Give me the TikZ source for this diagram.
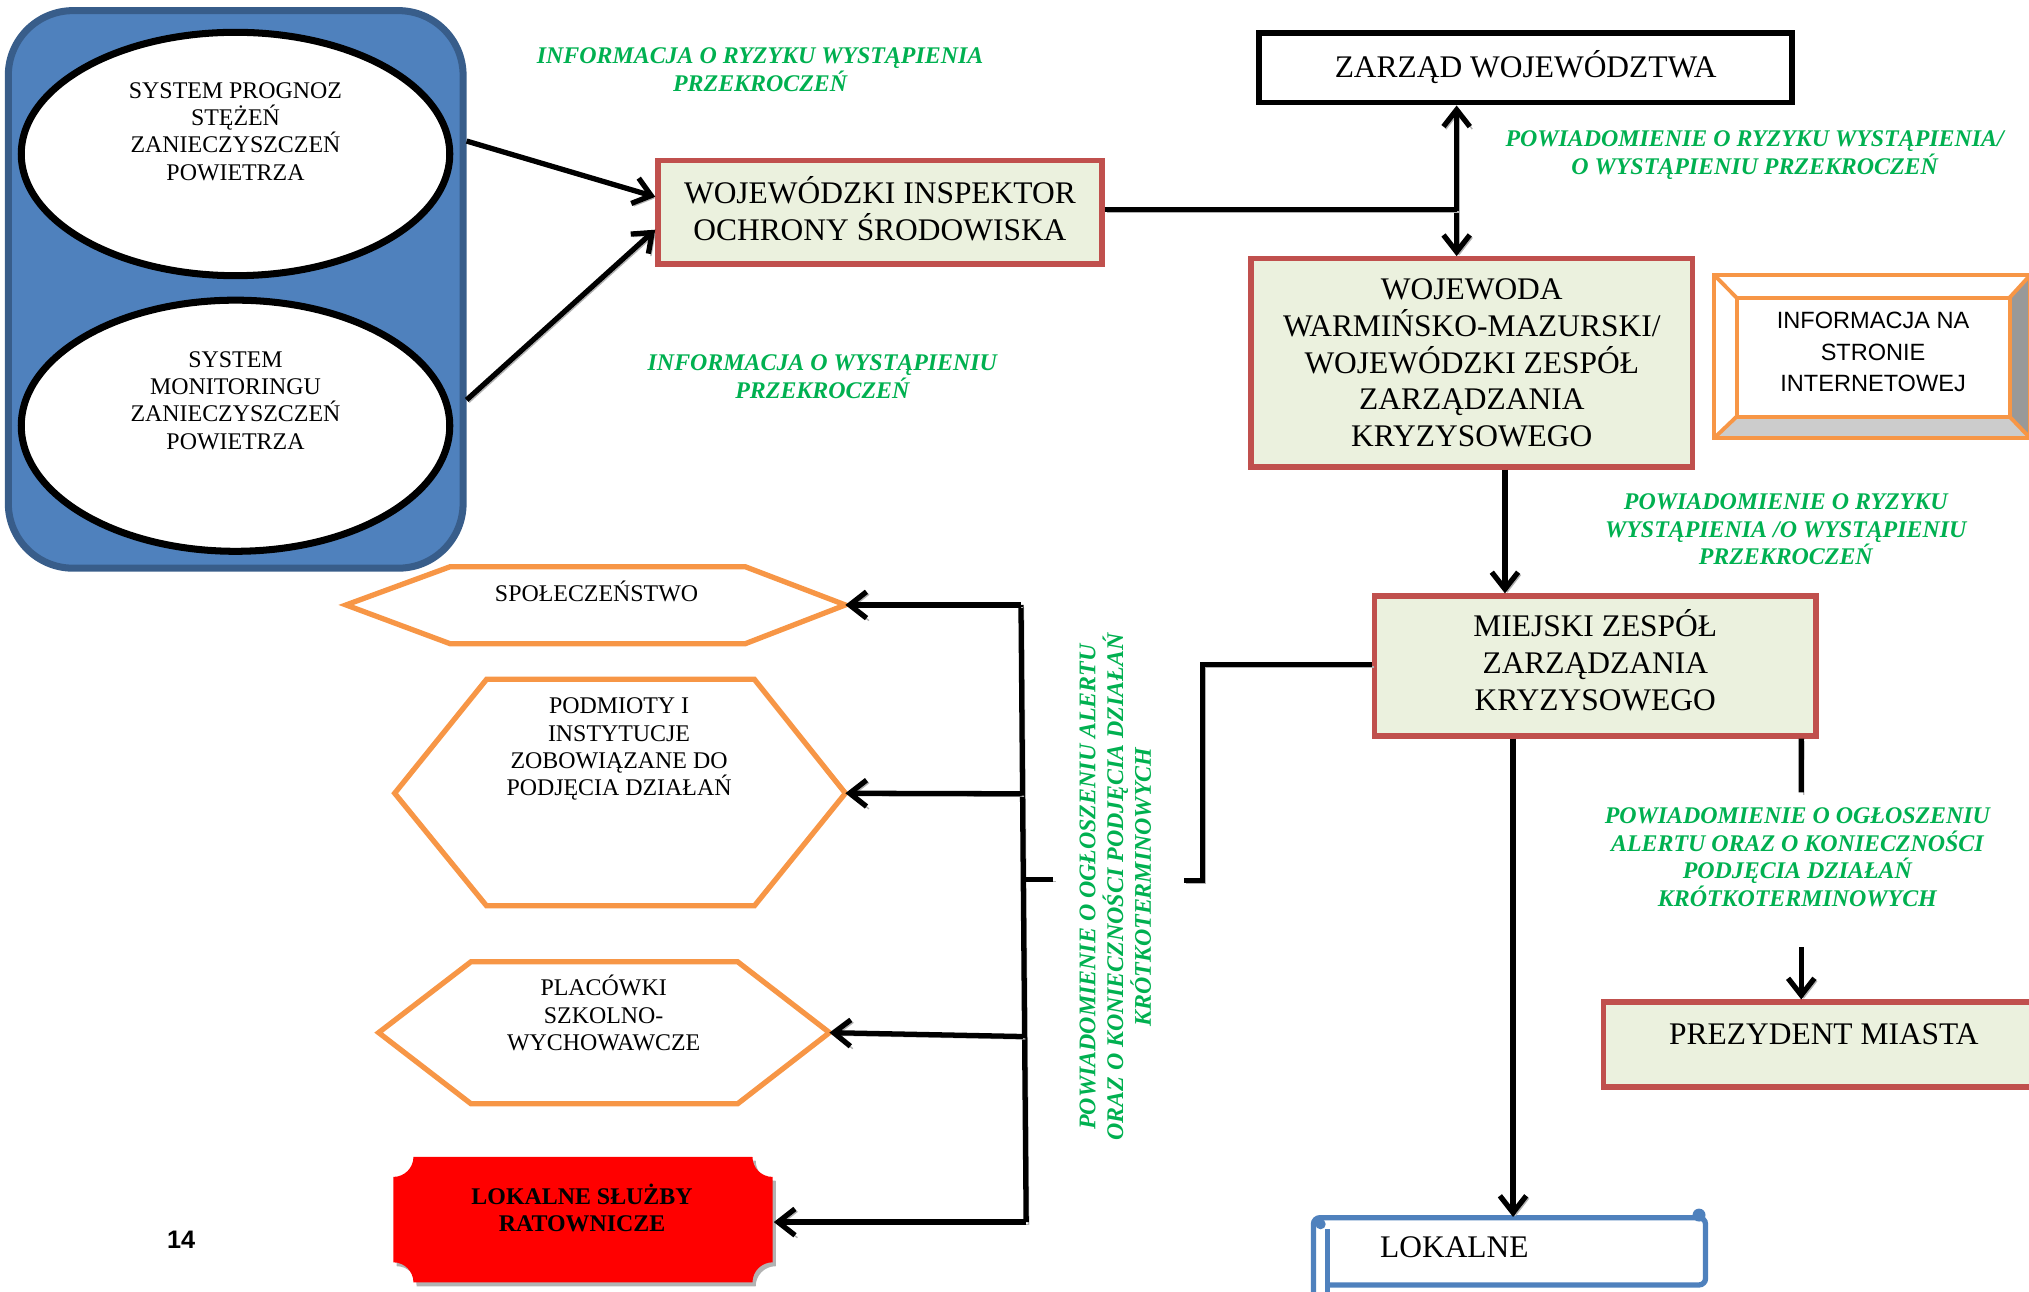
\documentclass[tikz,border=0pt]{standalone}
\usepackage{fontspec}
\setmainfont{Liberation Serif}
\setsansfont{Liberation Sans}
\usetikzlibrary{shapes.geometric,arrows.meta}
\definecolor{grn}{HTML}{00B050}
\definecolor{bxfill}{HTML}{EBF1DE}
\definecolor{bxred}{HTML}{C0504D}
\definecolor{orng}{HTML}{F79646}
\definecolor{blu}{HTML}{4F81BD}
\definecolor{bludk}{HTML}{385D8A}
\newcommand{\myu}{0.3683pt}
\newcommand{\bigf}{\fontsize{8.95}{10.5}\selectfont}
\newcommand{\smf}{\fontsize{6.8}{7.8}\selectfont}
\newcommand{\grf}{\fontsize{6.8}{7.85}\selectfont\bfseries\itshape}
\tikzset{
  box/.style={draw=bxred, fill=bxfill, line width=1.5pt, inner sep=0pt, align=center, font=\bigf},
  txt/.style={inner sep=0pt, align=center},
  grtxt/.style={txt, font=\grf, text=grn},
  conn/.style={line width=1.5pt, draw=black, preaction={draw=black!30, transform canvas={shift={(0.7pt,-0.7pt)}}}},
  arrowend/.style={-{Straight Barb[length=4.8pt,width=7.5pt]}},
  hexs/.style={draw=orng, line width=1.5pt, fill=white, line join=miter},
}
\begin{document}
\begin{tikzpicture}[x=0.01294cm, y=-0.01294cm]
\useasboundingbox (0,0) rectangle (1568,998);
\clip (0,0) rectangle (1568,998);

% blue panel with ellipses
\node[fill=blu, draw=bludk, line width=2pt, rounded corners=50*\myu, inner sep=0pt, minimum width=351.3*\myu, minimum height=430.7*\myu] (panel) at (182.15,223.65) {};
\node[draw=black, line width=2pt, fill=white, ellipse, inner sep=0pt, minimum width=331*\myu, minimum height=188*\myu] (e1) at (182,119) {};
\node[draw=black, line width=2pt, fill=white, ellipse, inner sep=0pt, minimum width=331*\myu, minimum height=194*\myu] (e2) at (182,329) {};
\node[txt, font=\smf] (t1) at (182,101.6) {SYSTEM PROGNOZ\\STĘŻEŃ\\ZANIECZYSZCZEŃ\\POWIETRZA};
\node[txt, font=\smf] (t2) at (182,309.5) {SYSTEM\\MONITORINGU\\ZANIECZYSZCZEŃ\\POWIETRZA};

% main boxes
\node[box, minimum width=343*\myu, minimum height=80*\myu] (wios) at (680,164.1) {};
\node[txt, font=\bigf] (wiost) at (680,161) {WOJEWÓDZKI INSPEKTOR\\OCHRONY ŚRODOWISKA};
\node[draw=black, line width=1.7pt, fill=white, inner sep=0pt, font=\bigf, minimum width=412*\myu, minimum height=54*\myu] (zarz) at (1179,52.2) {ZARZĄD WOJEWÓDZTWA};
\node[box, minimum width=341*\myu, minimum height=160.8*\myu] (woj) at (1137.4,280.4) {WOJEWODA\\WARMIŃSKO-MAZURSKI/\\WOJEWÓDZKI ZESPÓŁ\\ZARZĄDZANIA\\KRYZYSOWEGO};
\node[box, minimum width=341*\myu, minimum height=108.2*\myu] (mzzk) at (1232.8,514.7) {};
\node[txt, font=\bigf] (mzzkt) at (1232.8,510.5) {MIEJSKI ZESPÓŁ\\ZARZĄDZANIA\\KRYZYSOWEGO};
\node[box, minimum width=341*\myu, minimum height=65.6*\myu, text height=7pt, text depth=7pt] (prez) at (1409.5,807.2) {PREZYDENT MIASTA};

% info box (bevel)
\fill[gray!40] (1324.6,338.6) -- (1569,338.6) -- (1553,322) -- (1342,322) -- cycle;
\fill[gray!80] (1569,212.5) -- (1569,338.6) -- (1553,322) -- (1553,230) -- cycle;
\draw[orng, line width=1.1pt] (1324.6,212.5) rectangle (1569,338.6);
\draw[orng, line width=1.1pt] (1342,230) rectangle (1553,322);
\draw[orng, line width=1.1pt] (1324.6,212.5) -- (1342,230) (1569,212.5) -- (1553,230) (1324.6,338.6) -- (1342,322) (1569,338.6) -- (1553,322);
\node[txt, font=\sffamily\fontsize{6.7}{9}\selectfont] (info) at (1447.5,272) {INFORMACJA NA\\STRONIE\\INTERNETOWEJ};

% hexagons
\coordinate (spolR) at (653.3,467.5);
\coordinate (podR) at (653.3,613);
\coordinate (plaR) at (641,798);
\draw[hexs] (267.4,467.5) -- (348,437.9) -- (575.8,437.9) -- (spolR) -- (575.8,497.5) -- (348,497.5) -- cycle;
\draw[hexs] (305,613) -- (376,525) -- (583,525) -- (podR) -- (583,700) -- (376,700) -- cycle;
\draw[hexs] (292.6,798) -- (364,743.2) -- (570,743.2) -- (plaR) -- (570,853) -- (364,853) -- cycle;
\node[txt, font=\smf, anchor=base] (spol) at (461,464.5) {SPOŁECZEŃSTWO};
\node[txt, font=\smf] (pod) at (478.4,579) {PODMIOTY I\\INSTYTUCJE\\ZOBOWIĄZANE DO\\PODJĘCIA DZIAŁAŃ};
\node[txt, font=\smf] (pla) at (466.5,783) {PLACÓWKI\\SZKOLNO-\\WYCHOWAWCZE};

% red plaque
\begin{scope}[shift={(2.5,3)}]
\fill[black!30] (319.5,894) -- (581.5,894) arc[start angle=180,end angle=270,radius=15.5*\myu] -- (597,975.5) arc[start angle=90,end angle=180,radius=15.5*\myu] -- (319.5,991) arc[start angle=0,end angle=90,radius=15.5*\myu] -- (304,909.5) arc[start angle=270,end angle=360,radius=15.5*\myu] -- cycle;
\end{scope}
\fill[red] (319.5,894) -- (581.5,894) arc[start angle=180,end angle=270,radius=15.5*\myu] -- (597,975.5) arc[start angle=90,end angle=180,radius=15.5*\myu] -- (319.5,991) arc[start angle=0,end angle=90,radius=15.5*\myu] -- (304,909.5) arc[start angle=270,end angle=360,radius=15.5*\myu] -- cycle;
\coordinate (lsR) at (598,944.4);
\node[txt, font=\fontsize{6.8}{7.8}\selectfont\bfseries] (ls) at (449.8,933.5) {LOKALNE SŁUŻBY\\RATOWNICZE};

% scroll LOKALNE
\draw[blu, line width=1.5pt, rounded corners=5*\myu, fill=white] (1015,1010) -- (1015,941) -- (1318,941) -- (1318,993) -- (1026,993);
\draw[blu, line width=1.5pt] (1026,1010) -- (1026,950);
\fill[blu] (1313,939) circle[radius=5*\myu];
\fill[blu] (1020.5,946) circle[radius=4*\myu];
\node[inner sep=0pt, minimum width=292*\myu, minimum height=52*\myu] (lok) at (1172,967) {};
\node[txt, font=\bigf, anchor=base west] (lokt) at (1066,972) {LOKALNE};

% page number
\node[txt, font=\sffamily\bfseries\fontsize{7.2}{8}\selectfont] (pg) at (140,958) {14};

% green labels
\node[grtxt] (g1) at (587.4,53.7) {INFORMACJA O RYZYKU WYSTĄPIENIA\\PRZEKROCZEŃ};
\node[grtxt] (g2) at (635.5,291) {INFORMACJA O WYSTĄPIENIU\\PRZEKROCZEŃ};
\node[grtxt] (g3) at (1356,119.8) {POWIADOMIENIE O RYZYKU WYSTĄPIENIA/\\O WYSTĄPIENIU PRZEKROCZEŃ};
\node[grtxt] (g4) at (1380,409) {POWIADOMIENIE O RYZYKU\\WYSTĄPIENIA /O WYSTĄPIENIU\\PRZEKROCZEŃ};
\node[grtxt] (g5) at (1389,662.4) {POWIADOMIENIE O OGŁOSZENIU\\ALERTU ORAZ O KONIECZNOŚCI\\PODJĘCIA DZIAŁAŃ\\KRÓTKOTERMINOWYCH};
\node[grtxt, rotate=90, font=\fontsize{6.8}{7.9}\selectfont\bfseries\itshape] (g6) at (862,685.5) {POWIADOMIENIE O OGŁOSZENIU ALERTU\\ORAZ O KONIECZNOŚCI PODJĘCIA DZIAŁAŃ\\KRÓTKOTERMINOWYCH};

% connectors
\draw[conn, arrowend] ([yshift=114.6*\myu]panel.east) -- ([yshift=12*\myu]wios.west);
\draw[conn, arrowend] ([yshift=-85.4*\myu]panel.east) -- ([yshift=-13.4*\myu]wios.west);
\coordinate (za) at ([xshift=-53.3*\myu]zarz.south);
\coordinate (wa) at (za |- woj.north);
\draw[conn, {Straight Barb[length=4.8pt,width=7.5pt]}-{Straight Barb[length=4.8pt,width=7.5pt]}] (za) -- (wa);
\coordinate (we) at ([yshift=2.3*\myu]wios.east);
\draw[conn] (we) -- (we -| za);
\coordinate (wb) at ([xshift=25.6*\myu]woj.south);
\draw[conn, arrowend] (wb) -- (wb |- mzzk.north);
\coordinate (m1) at (929.4,680.5);
\coordinate (m2) at (915,680.5);
\draw[conn] ([yshift=1.2*\myu]mzzk.west) -| (m1) -- (m2);
\coordinate (mb) at ([xshift=-63.5*\myu]mzzk.south);
\draw[conn, arrowend] (mb) -- (mb |- lok.north);
\coordinate (ms) at ([xshift=159.2*\myu]mzzk.south);
\coordinate (ms2) at (1392,612.3);
\draw[conn] (ms) -- (ms2);
\coordinate (pa) at (1392,732.2);
\draw[conn, arrowend] (pa) -- (pa |- prez.north);

% bus to recipients
\coordinate (bt) at (789,467.5);
\coordinate (b2) at (789.5,613.4);
\coordinate (b3) at (790,679.5);
\coordinate (b3e) at (814,679.5);
\coordinate (b4) at (790.5,801);
\coordinate (bb) at (793,944.4);
\draw[conn] (bt) -- (bb);
\draw[conn] (b3) -- (b3e);
\draw[conn, arrowend] (bt) -- (spolR);
\draw[conn, arrowend] (b2) -- (podR);
\draw[conn, arrowend] (b4) -- (plaR);
\draw[conn, arrowend] (bb) -- (lsR);
\end{tikzpicture}
\end{document}
